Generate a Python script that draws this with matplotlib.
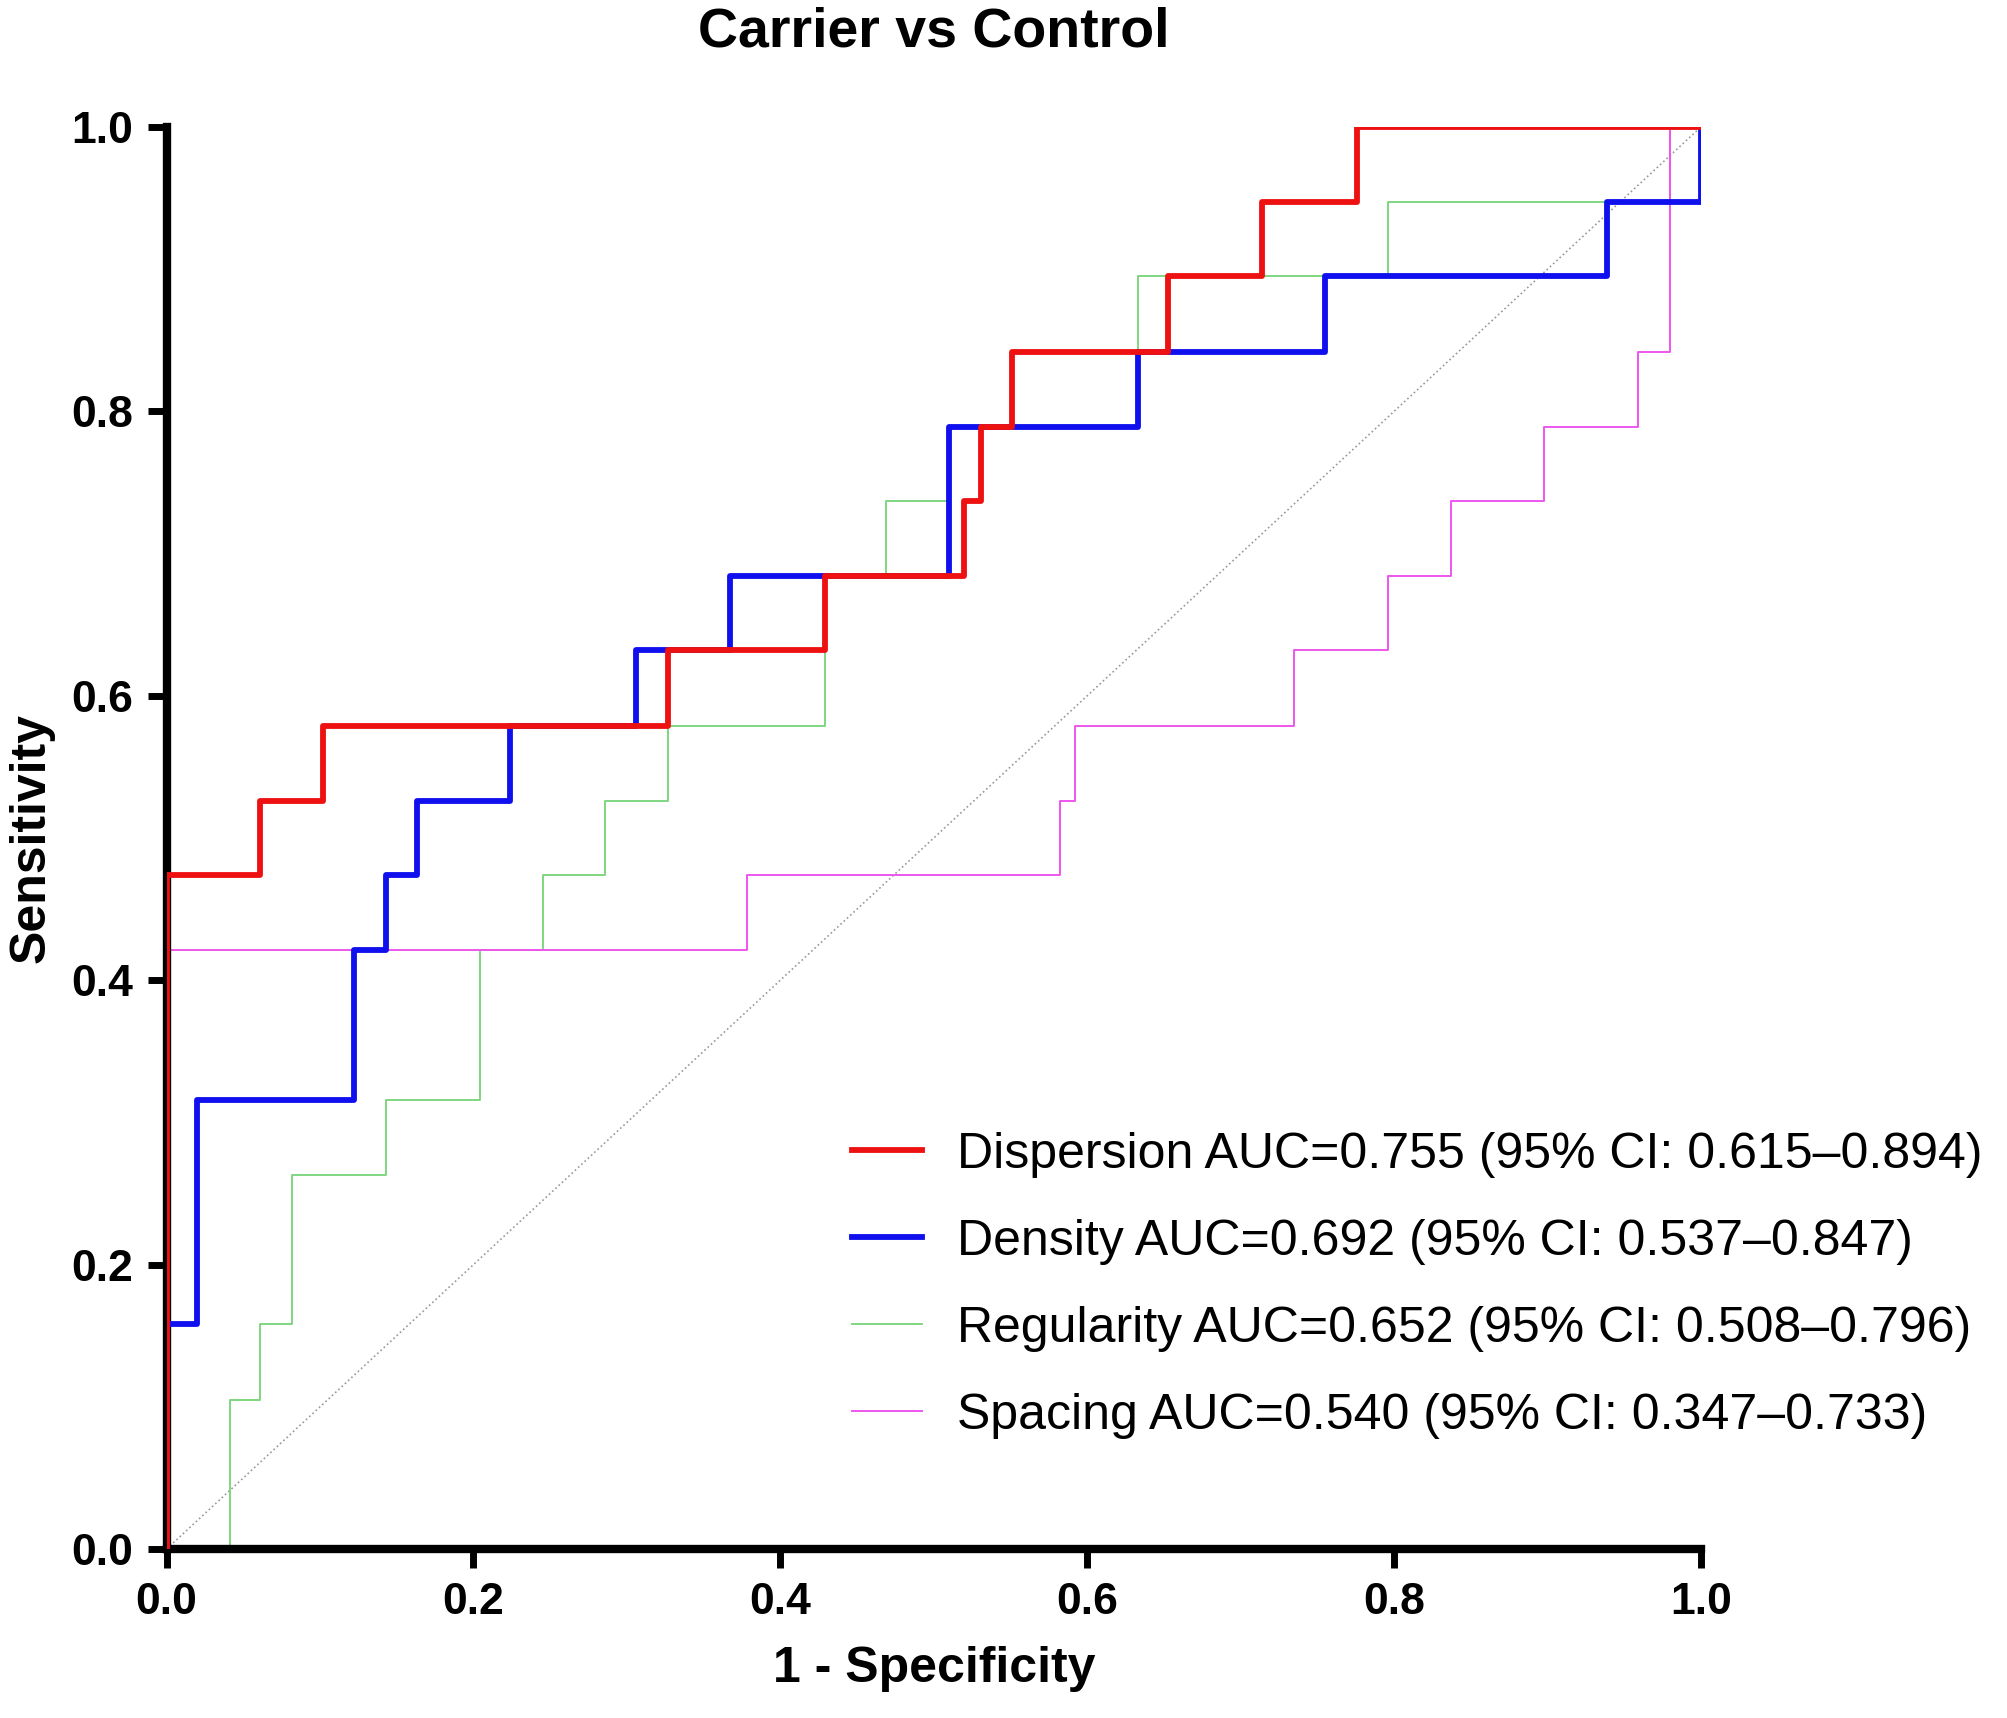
import matplotlib
matplotlib.use("Agg")
import matplotlib.pyplot as plt

plt.rcParams['font.family'] = ['Liberation Sans', 'DejaVu Sans']

disp_fpr = [0,0,0.061,0.061,0.102,0.102,0.327,0.327,0.429,0.429,0.520,0.520,0.531,0.531,0.551,0.551,0.653,0.653,0.714,0.714,0.776,0.776,1]
disp_tpr = [0,0.474,0.474,0.526,0.526,0.579,0.579,0.632,0.632,0.684,0.684,0.737,0.737,0.789,0.789,0.842,0.842,0.895,0.895,0.947,0.947,1,1]

dens_fpr = [0,0,0.020,0.020,0.122,0.122,0.143,0.143,0.163,0.163,0.224,0.224,0.306,0.306,0.367,0.367,0.510,0.510,0.633,0.633,0.755,0.755,0.939,0.939,1,1]
dens_tpr = [0,0.158,0.158,0.316,0.316,0.421,0.421,0.474,0.474,0.526,0.526,0.579,0.579,0.632,0.632,0.684,0.684,0.789,0.789,0.842,0.842,0.895,0.895,0.947,0.947,1]

reg_fpr = [0,0.041,0.041,0.061,0.061,0.082,0.082,0.143,0.143,0.204,0.204,0.245,0.245,0.286,0.286,0.327,0.327,0.429,0.429,0.469,0.469,0.510,0.510,0.551,0.551,0.633,0.633,0.796,0.796,0.980,0.980,1]
reg_tpr = [0,0,0.105,0.105,0.158,0.158,0.263,0.263,0.316,0.316,0.421,0.421,0.474,0.474,0.526,0.526,0.579,0.579,0.684,0.684,0.737,0.737,0.789,0.789,0.842,0.842,0.895,0.895,0.947,0.947,1,1]

spac_fpr = [0,0,0.378,0.378,0.582,0.582,0.592,0.592,0.735,0.735,0.796,0.796,0.837,0.837,0.898,0.898,0.959,0.959,0.980,0.980,1]
spac_tpr = [0,0.421,0.421,0.474,0.474,0.526,0.526,0.579,0.579,0.632,0.632,0.684,0.684,0.737,0.737,0.789,0.789,0.842,0.842,1,1]

labels = ["Dispersion AUC=0.755 (95% CI: 0.615\u20130.894)",
          "Density AUC=0.692 (95% CI: 0.537\u20130.847)",
          "Regularity AUC=0.652 (95% CI: 0.508\u20130.796)",
          "Spacing AUC=0.540 (95% CI: 0.347\u20130.733)"]

fig = plt.figure(figsize=(20.08, 17.18), dpi=100)
ax = fig.add_axes([0.083, 0.0984, 0.764, 0.8276])
ax.plot([0, 1], [0, 1], color='#999999', lw=1.2, ls=':', zorder=1)
ax.plot(reg_fpr, reg_tpr, color='#7fd67f', lw=1.4, label=labels[2], zorder=2)
ax.plot(spac_fpr, spac_tpr, color='#ee55ee', lw=1.4, label=labels[3], zorder=2)
ax.plot(dens_fpr, dens_tpr, color='#1010ee', lw=4.2, label=labels[1], zorder=3)
ax.plot(disp_fpr, disp_tpr, color='#ee1111', lw=4.2, label=labels[0], zorder=4)

ax.set_xlim(0, 1)
ax.set_ylim(0, 1)
ax.set_xticks([0, 0.2, 0.4, 0.6, 0.8, 1.0])
ax.set_yticks([0, 0.2, 0.4, 0.6, 0.8, 1.0])
ax.set_xticklabels(['0.0', '0.2', '0.4', '0.6', '0.8', '1.0'], fontsize=32, fontweight='bold')
ax.set_yticklabels(['0.0', '0.2', '0.4', '0.6', '0.8', '1.0'], fontsize=32, fontweight='bold')
for s in ['top', 'right']:
    ax.spines[s].set_visible(False)
for s in ['left', 'bottom']:
    ax.spines[s].set_linewidth(6)
ax.tick_params(width=5, length=14, direction='out', pad=10)
ax.set_xlabel('1 - Specificity', fontsize=36, fontweight='bold', labelpad=16)
ax.set_ylabel('Sensitivity', fontsize=36, fontweight='bold', labelpad=12)
ax.set_title('Carrier vs Control', fontsize=40, fontweight='bold', pad=58)

h, l = ax.get_legend_handles_labels()
order = [3, 2, 0, 1]
fig.legend([h[i] for i in order], [l[i] for i in order], loc='center left',
           bbox_to_anchor=(0.412, 0.252), frameon=False, fontsize=36,
           handlelength=1.4, handletextpad=0.7, labelspacing=0.82, borderpad=0)

fig.savefig('out.png', dpi=100)
